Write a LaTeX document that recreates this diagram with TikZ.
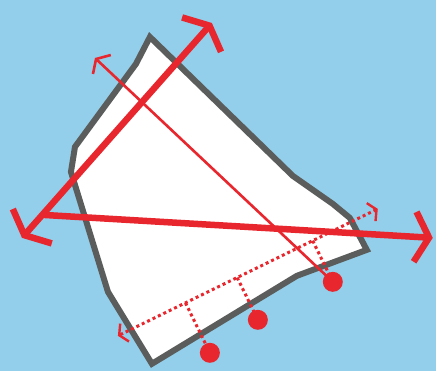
\documentclass[tikz,border=0pt]{standalone}
\usetikzlibrary{arrows.meta,calc}
\definecolor{sky}{HTML}{93CFEA}
\definecolor{pinred}{HTML}{E8262D}
\definecolor{edgegray}{HTML}{5B5D5C}
\begin{document}
\begin{tikzpicture}[x=1pt,y=-1pt,
  bigline/.style={pinred,line width=6.5pt},
  thinline/.style={pinred,line width=2.6pt},
  dotline/.style={pinred,line width=3pt,dash pattern=on 3pt off 3pt},
  pin/.style={circle,fill=pinred,inner sep=0pt,minimum size=20pt}]
  \fill[sky] (0,0) rectangle (436,371);
  % the lot
  \draw[edgegray,fill=white,line width=6pt,line join=miter]
    (150,37) -- (136,64) -- (75,147) -- (71,172) -- (108,292) -- (152,364)
    -- (297,276) -- (367,250) -- (350,218) -- (333,204) -- (293,176) -- cycle;
  \coordinate (dl) at (22,238);
  \coordinate (dt) at (212,23);
  \coordinate (hj) at (43,215);
  \coordinate (hr) at (433,238);
  \coordinate (tt) at (95,58);
  \coordinate (sa) at (118,336);
  \coordinate (sb) at (378,209);
  \coordinate (p1) at (210,353);
  \coordinate (p2) at (258,320);
  \coordinate (p3) at (333,282);
  % offsets
  \draw[dotline,{Straight Barb[length=6pt,width=20pt,line width=2.4pt]}-{Straight Barb[length=6pt,width=20pt,line width=2.4pt]}] (sa) -- (sb);
  \foreach \n in {1,2,3}
    \draw[dotline] ($(sa)!(p\n)!(sb)$) -- (p\n);
  \draw[thinline,{Straight Barb[length=8pt,width=26pt,line width=2.6pt]}-] (tt) -- (p3);
  % main axes
  \draw[bigline,{Straight Barb[length=12pt,width=52pt,line width=6.5pt]}-{Straight Barb[length=12pt,width=52pt,line width=6.5pt]}] (dl) -- (dt);
  \draw[bigline,-{Straight Barb[length=14pt,width=50pt,line width=6.5pt]}] (hj) -- (hr);
  \foreach \n in {1,2,3}
    \node[pin] (d\n) at (p\n) {};
\end{tikzpicture}
\end{document}
